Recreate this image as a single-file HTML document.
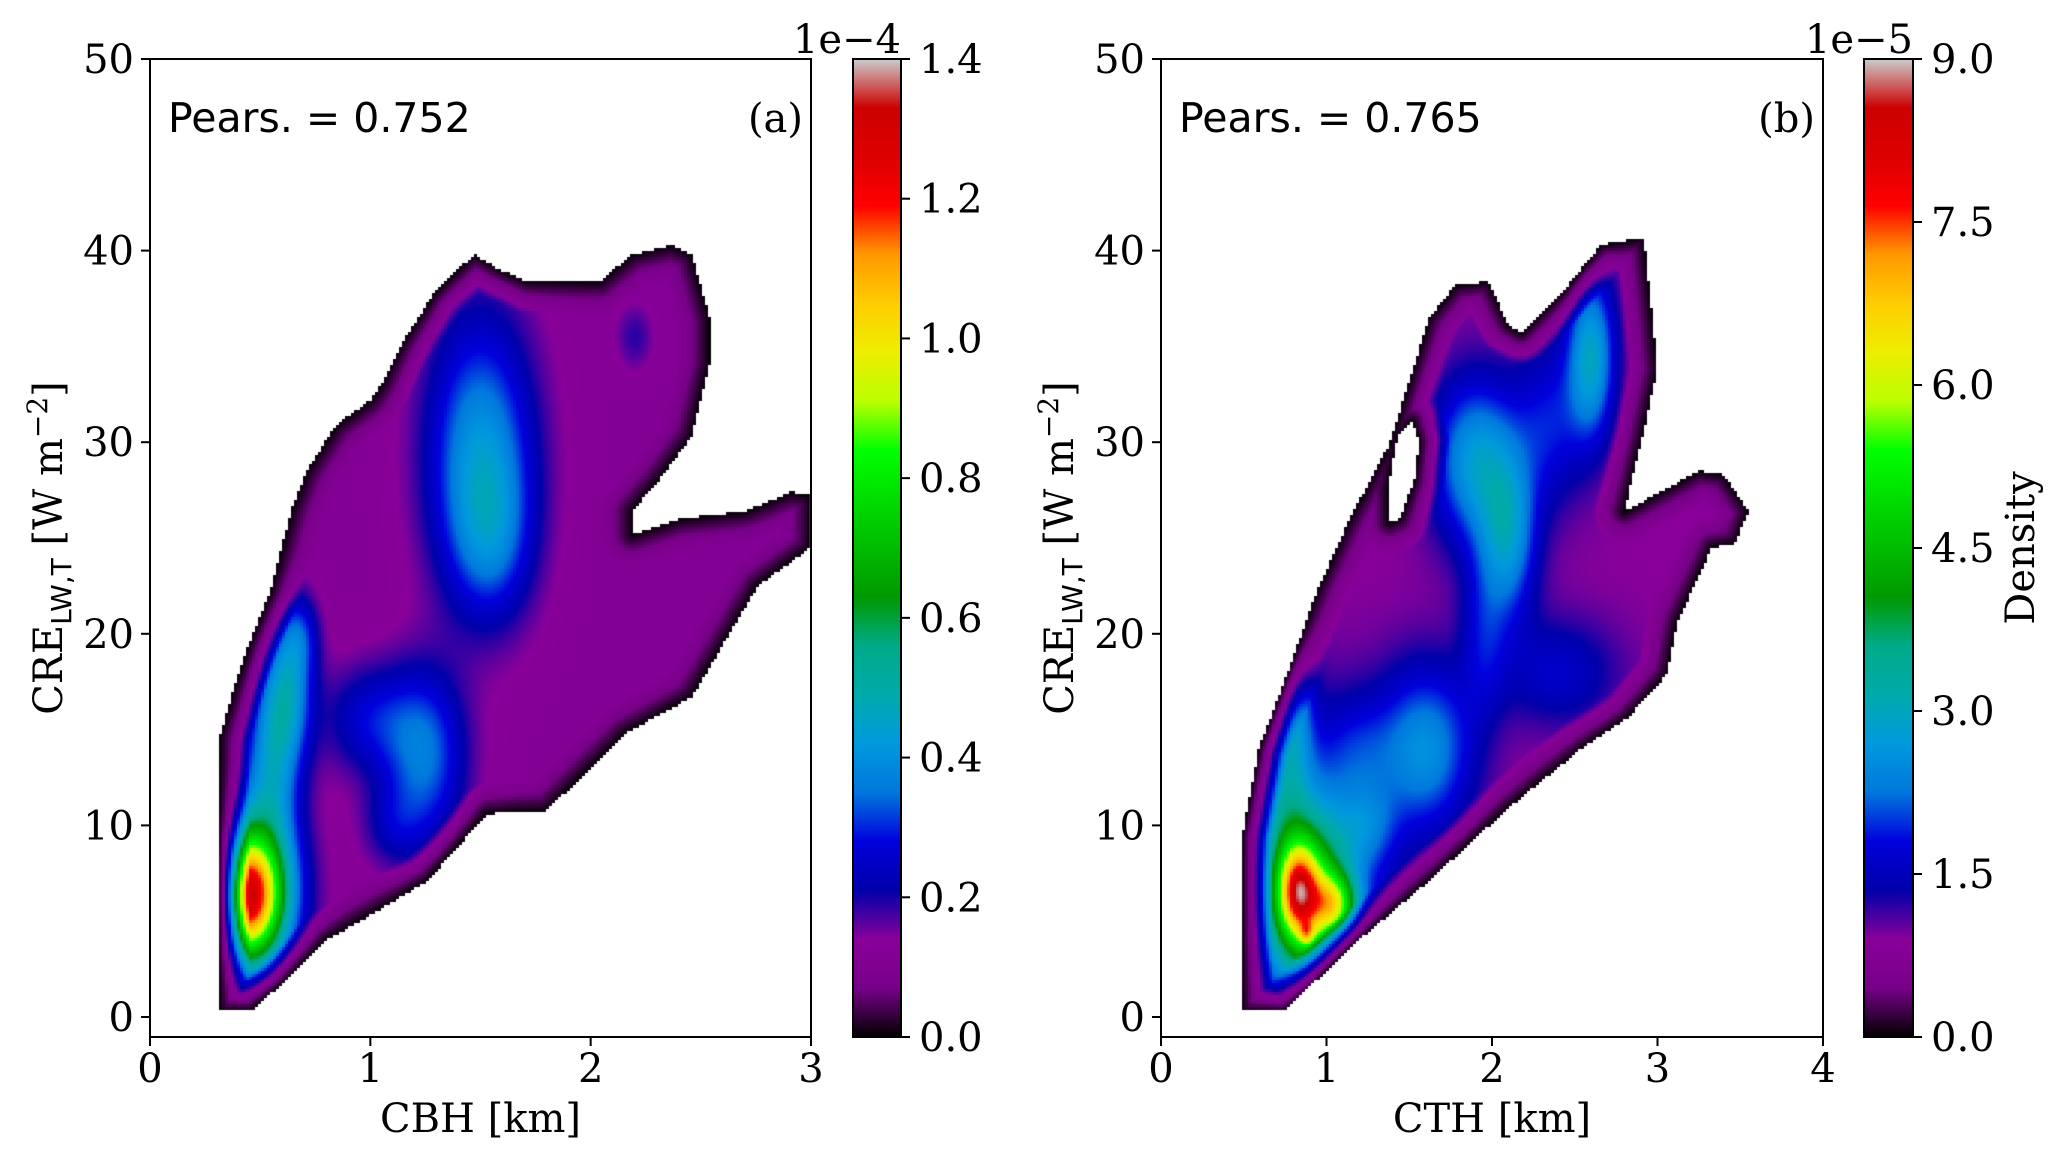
<!DOCTYPE html>
<html><head><meta charset="utf-8">
<style>
html,body{margin:0;padding:0;background:#fff;}
#root{position:relative;width:2068px;height:1162px;overflow:hidden;background:#fff;}
canvas{position:absolute;}
svg{position:absolute;left:0;top:0;}
.tk{font-family:"DejaVu Serif","Liberation Serif",serif;font-size:40px;fill:#000;}
.sn{font-family:"DejaVu Sans","Liberation Sans",sans-serif;font-size:41px;fill:#000;}
</style></head>
<body>
<div id="root">
<canvas id="cva" width="661" height="978" style="left:150px;top:59px"></canvas>
<canvas id="cvb" width="662" height="978" style="left:1161px;top:59px"></canvas>
<svg id="svg" width="2068" height="1162">
<defs>
<linearGradient id="cmapGrad" x1="0" y1="1" x2="0" y2="0"></linearGradient>
</defs>
</svg>
</div>
<script>
// ---- colormap (nipy_spectral) ----
const cmR=[0,0.4667,0.5333,0,0,0,0,0,0,0,0,0,0,0.7333,0.9333,1,1,1,0.8667,0.8,0.8];
const cmG=[0,0,0,0,0,0.4667,0.6,0.6667,0.6667,0.6,0.7333,0.8667,1,1,0.9333,0.8,0.6,0,0,0,0.8];
const cmB=[0,0.5333,0.6,0.6667,0.8667,0.8667,0.8667,0.6667,0.5333,0,0,0,0,0,0,0,0,0,0,0,0.8];

// ---- panel (a) data ----
const aTicksX=[0,1,2,3];
const aTicksY=[0,10,20,30,40,50];
const aCbarTicks=[0.0,0.2,0.4,0.6,0.8,1.0,1.2,1.4];
const aCbarMax=1.4;
const aBoundX=[0.315,0.315,0.38,0.45,0.545,0.64,0.71,0.845,1.0,1.05,1.14,1.29,1.47,1.59,1.71,2.04,2.19,2.37,2.46,2.54,2.54,2.46,2.31,2.19,2.19,2.4,2.7,2.91,3.0,3.0,2.76,2.46,2.16,1.8,1.53,1.26,1.0,0.8,0.6,0.455];
const aBoundY=[0.3,14.6,17.1,19.5,22.2,26.4,28.5,30.9,32.2,33,35.1,37.8,39.8,39,38.4,38.4,39.8,40.3,39.8,36.5,34.1,30.3,28,26.4,25.2,26,26.4,27.4,27.2,24.5,22.5,16.7,14.8,10.75,10.6,7.1,5.3,4,1.7,0.3];
// blobs: center x, center y, sigma x, sigma y, amplitude (fraction of cbar max)
const aBlobX=[0.44,0.48,0.55,0.62,0.68,1.5,1.55,1.25,1.0,1.1,2.2];
const aBlobY=[6.3,6.5,13,17,20,29.5,25,13.5,15.5,10,35.5];
const aBlobSX=[0.1,0.14,0.09,0.08,0.06,0.17,0.13,0.13,0.15,0.1,0.06];
const aBlobSY=[2.2,3.0,3,2.5,1.5,5.0,3.0,3.2,2,1.5,1.2];
const aBlobA=[0.55,0.32,0.18,0.2,0.1,0.2,0.1,0.16,0.1,0.06,0.05];
const aBase=0.085;

// ---- panel (b) data ----
const bTicksX=[0,1,2,3,4];
const bTicksY=[0,10,20,30,40,50];
const bCbarTicks=[0.0,1.5,3.0,4.5,6.0,7.5,9.0];
const bCbarMax=9.0;
const bBoundX=[0.49,0.49,0.59,0.78,0.94,1.14,1.38,1.62,1.78,1.98,2.1,2.18,2.42,2.66,2.92,3.0,2.9,2.8,3.06,3.25,3.4,3.55,3.47,3.33,3.12,3.06,2.82,2.54,2.1,1.62,1.14,0.75];
const bBoundY=[0.3,9.4,14,18.3,22.2,26,29.9,36.5,38.2,38.4,36.1,35.7,37.8,40.3,40.7,33.8,29.9,26.4,27.6,28.5,28.3,26.4,24.7,24.5,20.6,17.9,15.6,14,10.9,7.1,3.6,0.3];
const bHoleX=[1.52,1.56,1.53,1.44,1.38,1.37,1.43];
const bHoleY=[31.1,30,28,26,25.8,27.5,30.3];
const bBlobX=[0.83,1.05,0.88,0.88,0.9,0.8,0.75,1.6,1.25,1.9,2.1,2.6,2.35,2.4,1.95,1.2];
const bBlobY=[6.6,5.9,4.4,6.0,7.5,16.5,12,14,10,29,25,34.5,31,18,20,14];
const bBlobSX=[0.08,0.09,0.03,0.16,0.3,0.08,0.1,0.2,0.12,0.18,0.12,0.1,0.15,0.25,0.1,0.15];
const bBlobSY=[1.6,1.1,0.4,2.8,5,2.5,3,3,1.5,3,3,3,3,2,3,2];
const bBlobA=[0.36,0.28,0.15,0.35,0.18,0.14,0.1,0.18,0.08,0.2,0.18,0.22,0.1,0.08,0.08,0.06];
const bBase=0.1;

function cmap(t){
  t=Math.max(0,Math.min(1,t));
  const p=t*20, i=Math.min(19,Math.floor(p)), f=p-i;
  return [Math.round(255*(cmR[i]+(cmR[i+1]-cmR[i])*f)),
          Math.round(255*(cmG[i]+(cmG[i+1]-cmG[i])*f)),
          Math.round(255*(cmB[i]+(cmB[i+1]-cmB[i])*f))];
}
function inPoly(px,py,xs,ys){
  let c=false;
  for(let i=0,j=xs.length-1;i<xs.length;j=i++){
    if(((ys[i]>py)!=(ys[j]>py))&&(px<(xs[j]-xs[i])*(py-ys[i])/(ys[j]-ys[i])+xs[i]))c=!c;
  }
  return c;
}
function segDist(px,py,ax,ay,bx,by){
  const dx=bx-ax,dy=by-ay,l=dx*dx+dy*dy;
  let t=l?((px-ax)*dx+(py-ay)*dy)/l:0;t=Math.max(0,Math.min(1,t));
  const qx=ax+t*dx-px,qy=ay+t*dy-py;return Math.sqrt(qx*qx+qy*qy);
}
function drawPanel(cv,xmax,BX,BY,HX,HY,blX,blY,blSX,blSY,blA,base){
  const ctx=cv.getContext('2d');const W=cv.width,H=cv.height;
  const sx=v=>v/xmax*W, sy=v=>(1017-59)-19.16*v;
  const pbx=BX.map(sx),pby=BY.map(sy);
  const phx=HX?HX.map(sx):null,phy=HY?HY.map(sy):null;
  const img=ctx.createImageData(W,H);
  const cs=3;
  for(let cy=0;cy<H;cy+=cs){for(let cx=0;cx<W;cx+=cs){
    const px=cx+cs/2,py=cy+cs/2;
    if(!inPoly(px,py,pbx,pby))continue;
    let d=1e9;
    for(let i=0,j=pbx.length-1;i<pbx.length;j=i++)d=Math.min(d,segDist(px,py,pbx[j],pby[j],pbx[i],pby[i]));
    if(phx){ if(inPoly(px,py,phx,phy))continue;
      for(let i=0,j=phx.length-1;i<phx.length;j=i++)d=Math.min(d,segDist(px,py,phx[j],phy[j],phx[i],phy[i]));}
    const dx=px/W*xmax, dy=((1017-59)-py)/19.16;
    let v=0;
    for(let k=0;k<blX.length;k++){
      const u=(dx-blX[k])/blSX[k],w=(dy-blY[k])/blSY[k];
      v+=blA[k]*Math.exp(-0.5*(u*u+w*w));
    }
    const fade=Math.min(1,(d+1)/32);
    v=(base+v)*fade;
    const c=cmap(v);
    for(let yy=cy;yy<Math.min(H,cy+cs);yy++)for(let xx=cx;xx<Math.min(W,cx+cs);xx++){
      const o=(yy*W+xx)*4;img.data[o]=c[0];img.data[o+1]=c[1];img.data[o+2]=c[2];img.data[o+3]=255;}
  }}
  ctx.putImageData(img,0,0);
}
drawPanel(document.getElementById('cva'),3,aBoundX,aBoundY,null,null,aBlobX,aBlobY,aBlobSX,aBlobSY,aBlobA,aBase);
drawPanel(document.getElementById('cvb'),4,bBoundX,bBoundY,bHoleX,bHoleY,bBlobX,bBlobY,bBlobSX,bBlobSY,bBlobA,bBase);

// ---- SVG overlay ----
const NS='http://www.w3.org/2000/svg';
const svg=document.getElementById('svg');
const grad=document.getElementById('cmapGrad');
for(let i=0;i<=40;i++){const c=cmap(i/40);const s=document.createElementNS(NS,'stop');
  s.setAttribute('offset',(i/40));s.setAttribute('stop-color','rgb('+c.join(',')+')');grad.appendChild(s);}
function el(tag,attrs,text){const e=document.createElementNS(NS,tag);for(const k in attrs)e.setAttribute(k,attrs[k]);if(text!==undefined)e.textContent=text;svg.appendChild(e);return e;}
const Y0=1017,YS=19.16,TOP=59,BOT=1037;
function axes(L,R,xmax,ticksX,ticksY,xlabel,pears,tag,ylabX){
  const fx=v=>L+(R-L)*v/xmax;
  const fr=el('rect',{x:L,y:TOP,width:R-L,height:BOT-TOP,fill:'none',stroke:'#000','stroke-width':2});
  
  
  ticksX.forEach(t=>{
    const ln=el('line',{x1:fx(t),x2:fx(t),y1:BOT,y2:BOT+9,stroke:'#000','stroke-width':2});
    
    
    const tx=el('text',{x:fx(t),y:1082,'text-anchor':'middle',class:'tk'},String(t));
    
    
  });
  ticksY.forEach(t=>{
    const y=Y0-YS*t;
    const ln=el('line',{x1:L-9,x2:L,y1:y,y2:y,stroke:'#000','stroke-width':2});
    
    
    const tx=el('text',{x:L-16,y:y+14,'text-anchor':'end',class:'tk'},String(t));
    
    
  });
  const xl=el('text',{x:(L+R)/2,y:1132,'text-anchor':'middle',class:'tk'},xlabel);
  
  
  const yl=el('text',{x:0,y:0,'text-anchor':'middle',class:'tk',transform:'translate('+ylabX+',548) rotate(-90)'});
  
  
  yl.innerHTML='CRE<tspan dy="9" font-family="DejaVu Sans, Liberation Sans, sans-serif" font-size="28">LW,T</tspan><tspan dy="-9"> [W m</tspan><tspan dy="-15" font-size="28">−2</tspan><tspan dy="15">]</tspan>';
  const pt=el('text',{x:L+18,y:132,class:'sn'},pears);
  
  
  const pl=el('text',{x:R-8,y:132,'text-anchor':'end',class:'tk'},'('+tag+')');
  
  
}
function cbar(L,R,ticks,max,exp,tag,dens){
  const r=el('rect',{x:L,y:TOP,width:R-L,height:BOT-TOP,fill:'url(#cmapGrad)',stroke:'#000','stroke-width':2});
  
  
  ticks.forEach(t=>{
    const y=BOT-(BOT-TOP)*t/max;
    const ln=el('line',{x1:R,x2:R+9,y1:y,y2:y,stroke:'#000','stroke-width':2});
    
    
    const tx=el('text',{x:R+18,y:y+14,class:'tk'},t.toFixed(1));
    
    
  });
  const ex=el('text',{x:R,y:53,'text-anchor':'end',class:'tk'},exp);
  
  
  if(dens){
    const d=el('text',{x:0,y:0,'text-anchor':'middle',class:'tk',transform:'translate(2034,548) rotate(-90)'},'Density');
    
    
  }
}
axes(150,811,3,aTicksX,aTicksY,'CBH [km]','Pears. = 0.752','a',62);
axes(1161,1823,4,bTicksX,bTicksY,'CTH [km]','Pears. = 0.765','b',1073);
cbar(853,901,aCbarTicks,aCbarMax,'1e−4','a',false);
cbar(1864,1913,bCbarTicks,bCbarMax,'1e−5','b',true);
</script>
</body></html>
